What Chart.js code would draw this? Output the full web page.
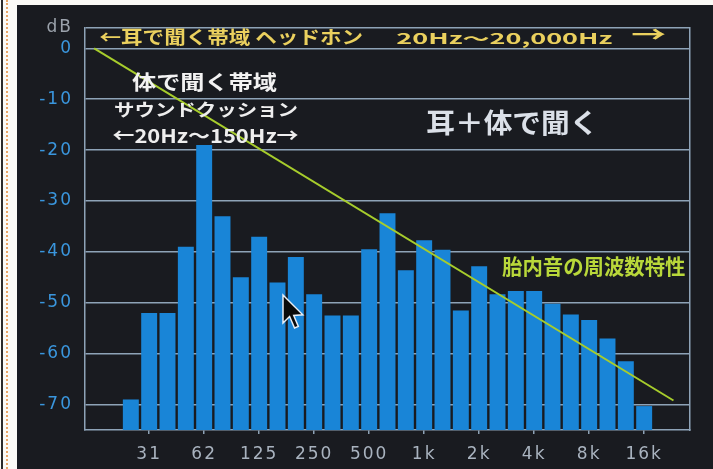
<!DOCTYPE html>
<html><head><meta charset="utf-8">
<script src="https://cdn.jsdelivr.net/npm/chart.js@4.4.1/dist/chart.umd.min.js"></script>
<style>
html,body{margin:0;padding:0;background:#fbfaf6;width:713px;height:469px;overflow:hidden;}
#edge1{position:absolute;left:1px;top:0;width:2px;height:469px;background:#2a2a2a;}
#edge2{position:absolute;left:6px;top:0;width:0;height:469px;border-left:2px dotted #e9a566;}
#panel{position:absolute;left:17px;top:5px;width:696px;height:464px;background:#191b20;}
canvas{display:block;}
</style></head><body>
<div id="edge1"></div><div id="edge2"></div>
<div id="panel"><canvas id="c" width="696" height="464"></canvas></div>
<script>
// 1/3-octave bands (Hz) and fetal sound level (dB)
const bandLabels = ['25','31','40','50','62','80','100','125','160','200','250','315','400','500','630','800','1k','1.25k','1.6k','2k','2.5k','3.15k','4k','5k','6.3k','8k','10k','12.5k','16k'];
const levels = [-69,-52,-52,-39,-19,-33,-45,-37,-46,-41,-48.3,-52.5,-52.5,-39.5,-32.4,-43.6,-37.7,-39.6,-51.5,-42.8,-48.3,-47.7,-47.7,-50.2,-52.3,-53.4,-57,-61.5,-70.3];
const octaveLabels = ['31','62','125','250','500','1k','2k','4k','8k','16k'];
const yTickValues = [0,-10,-20,-30,-40,-50,-60,-70];
const yUnit = 'dB';
const Y_MIN = -75, Y_MAX = 4;
const X_MIN = -2.5, X_MAX = 30.5;
// "胎内音の周波数特性" reference line (band index, dB)
const fetalLineX = [-2, 29.6];
const fetalLineY = [0, -69.2];

const octaveIdx = octaveLabels.map(l => bandLabels.indexOf(l));

const notes = [
  {text:'←耳で聞く帯域 ヘッドホン', box:[83,23,345,41], color:'#ead05e', weight:'bold'},
  {text:'20Hz〜20,000Hz', box:[380,27,595,42], color:'#ead05e', weight:'bold'},
  {text:'→', box:[615,23,648,34], color:'#ead05e', weight:'bold'},
  {text:'体で聞く帯域', box:[115,67,260,87], color:'#f2f2f2', weight:'bold'},
  {text:'サウンドクッション', box:[98,97,280,113], color:'#eeeeee', weight:'bold'},
  {text:'←20Hz〜150Hz→', box:[96,123,281,138], color:'#eeeeee', weight:'bold'},
  {text:'耳＋体で聞く', box:[410,104,575,131], color:'#dbe0e8', weight:'bold'},
  {text:'胎内音の周波数特性', box:[485,251,668,272], color:'#b9d83a', weight:'bold'}
];

function drawFitted(ctx, n) {
  ctx.save();
  ctx.letterSpacing = '0px';
  ctx.font = n.weight + ' 40px "Noto Sans CJK JP", sans-serif';
  ctx.textAlign = 'left';
  ctx.textBaseline = 'alphabetic';
  const m = ctx.measureText(n.text);
  const inkW = m.actualBoundingBoxLeft + m.actualBoundingBoxRight;
  const inkH = m.actualBoundingBoxAscent + m.actualBoundingBoxDescent;
  const [x0,y0,x1,y1] = n.box;
  ctx.translate(x0, y0);
  ctx.scale((x1-x0)/inkW, (y1-y0)/inkH);
  ctx.fillStyle = n.color;
  ctx.fillText(n.text, m.actualBoundingBoxLeft, m.actualBoundingBoxAscent);
  ctx.restore();
}

const annotPlugin = {
  id:'annot',
  beforeDraw(chart){ chart.ctx.letterSpacing = '2px'; },
  afterDraw(chart){
    const ctx = chart.ctx;
    ctx.letterSpacing = '0px';
    notes.forEach(n => drawFitted(ctx, n));
    // mouse pointer seen in the picture
    ctx.save();
    ctx.translate(266, 290);
    ctx.scale(1.65, 1.65);
    ctx.beginPath();
    const p = [[0,0],[0,17],[4,13],[7,20],[9.3,19],[6.5,12.4],[12,12]];
    ctx.moveTo(p[0][0], p[0][1]);
    p.slice(1).forEach(q => ctx.lineTo(q[0], q[1]));
    ctx.closePath();
    ctx.fillStyle = '#0a0a0a';
    ctx.fill();
    ctx.lineWidth = 0.9;
    ctx.strokeStyle = '#e8eef5';
    ctx.stroke();
    ctx.restore();
  }
};

const gridCol = '#8ea3b7';
new Chart(document.getElementById('c'), {
  data: {
    datasets: [
      {type:'line', order:0, data: fetalLineX.map((x,i)=>({x, y:fetalLineY[i]})),
       borderColor:'#a7cd2c', borderWidth:2, pointRadius:0, tension:0, fill:false},
      {type:'bar', order:1, data: levels.map((v,i)=>({x:i, y:v})),
       backgroundColor:'#1985d7', base: Y_MIN, barPercentage:0.87, categoryPercentage:1, borderWidth:0}
    ]
  },
  options: {
    responsive:false, animation:false, devicePixelRatio:1,
    layout:{padding:{top:23, right:23, left:0, bottom:0}},
    plugins:{legend:{display:false}, tooltip:{enabled:false}},
    scales:{
      x:{type:'linear', min:X_MIN, max:X_MAX, offset:false,
         afterBuildTicks: s => { s.ticks = octaveIdx.map(v => ({value:v})); },
         afterFit: s => { s.height = 39; },
         grid:{offset:false, drawOnChartArea:false, drawTicks:true, tickLength:4, color:gridCol, lineWidth:1.5},
         border:{display:true, color:gridCol, width:1.5},
         ticks:{color:'#a9b3bf', font:{family:'DejaVu Sans', size:17}, padding:10, maxRotation:0, autoSkip:false,
                callback: v => bandLabels[v]}},
      y:{type:'linear', min:Y_MIN, max:Y_MAX,
         afterBuildTicks: s => { s.ticks = [Y_MAX, ...yTickValues].map(v => ({value:v})); },
         afterFit: s => { s.width = 68; },
         grid:{color:gridCol, lineWidth:1.5, drawTicks:false},
         border:{display:true, color:gridCol, width:1.5},
         ticks:{padding:12, autoSkip:false,
                color: c => (c.tick && c.tick.value === Y_MAX) ? '#9ba2ab' : '#3a96dd',
                font:{family:'DejaVu Sans', size:17},
                callback: v => v === Y_MAX ? yUnit : String(v)}},
      yR:{type:'linear', position:'right', min:Y_MIN, max:Y_MAX,
          ticks:{display:false}, grid:{drawOnChartArea:false, drawTicks:false},
          border:{display:true, color:gridCol, width:1.5},
          afterFit: s => { s.width = 0; }}
    }
  },
  plugins:[annotPlugin]
});
</script>
</body></html>
